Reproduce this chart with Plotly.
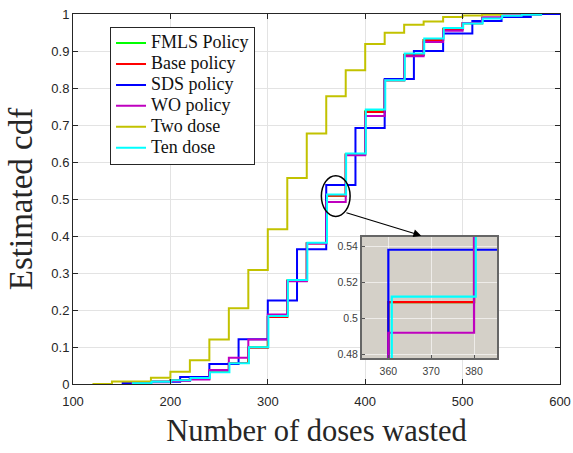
import plotly.graph_objects as go

# ---------------- data ----------------
steps20 = [160, 180, 200, 220, 240, 260, 280, 300, 320, 340, 360, 380, 400,
           420, 440, 460, 480, 500, 520, 540, 560, 580]
ten_steps = [160.6, 180.6, 200.6, 220.6, 240.6, 260.6, 280.6, 300.6, 320.6,
             340.6, 360.8, 380.4, 400.6, 420.6, 440.6, 460.6, 480.6, 500.6,
             520.6, 540.6, 560.6, 580.6]

fmls_cdf = [0.002, 0.006, 0.010, 0.015, 0.033, 0.057, 0.099, 0.182, 0.280,
            0.381, 0.509, 0.621, 0.737, 0.821, 0.890, 0.930, 0.960, 0.975,
            0.989, 0.995, 0.998, 1.0]
base_cdf = [0.002, 0.006, 0.010, 0.015, 0.033, 0.057, 0.098, 0.181, 0.279,
            0.380, 0.509, 0.620, 0.735, 0.821, 0.889, 0.930, 0.959, 0.975,
            0.989, 0.995, 0.998, 1.0]
wo_cdf = [0.002, 0.005, 0.008, 0.012, 0.038, 0.071, 0.120, 0.188, 0.278,
          0.380, 0.492, 0.618, 0.724, 0.821, 0.886, 0.924, 0.955, 0.976,
          0.991, 0.996, 0.998, 1.0]
ten_cdf = [0.002, 0.006, 0.010, 0.016, 0.032, 0.056, 0.099, 0.184, 0.281,
           0.382, 0.512, 0.623, 0.742, 0.821, 0.893, 0.934, 0.962, 0.974,
           0.988, 0.9956, 0.998, 1.0]

sds_steps = [150, 180, 210, 240, 270, 300, 330, 360, 390, 420, 450, 480,
             510, 540, 570, 600]
sds_cdf = [0.003, 0.006, 0.019, 0.054, 0.121, 0.226, 0.364, 0.538, 0.692,
           0.824, 0.900, 0.947, 0.981, 0.992, 1.0, 1.0]

two_steps = [120, 140, 180, 200, 220, 240, 260, 280, 300, 320, 340, 360,
             380, 400, 420, 440, 460, 480, 500, 520, 540]
two_cdf = [0.0, 0.007, 0.017, 0.033, 0.064, 0.120, 0.205, 0.308, 0.418,
           0.557, 0.677, 0.778, 0.848, 0.919, 0.949, 0.971, 0.980, 0.992,
           0.996, 0.998, 1.0]

series = [
    ("FMLS Policy", steps20, fmls_cdf, "#00ff00"),
    ("Base policy", steps20, base_cdf, "#ff0000"),
    ("SDS policy", sds_steps, sds_cdf, "#0000ff"),
    ("WO policy", steps20, wo_cdf, "#bf00bf"),
    ("Two dose", two_steps, two_cdf, "#c2c200"),
    ("Ten dose", ten_steps, ten_cdf, "#00ffff"),
]

x_ticks = [100, 200, 300, 400, 500, 600]
y_ticks = [0, 0.1, 0.2, 0.3, 0.4, 0.5, 0.6, 0.7, 0.8, 0.9, 1]
y_ticktext = ["0", "0.1", "0.2", "0.3", "0.4", "0.5", "0.6", "0.7", "0.8", "0.9", "1"]
inset_x_range = [353.8, 385.4]
inset_y_range = [0.478, 0.5452]
inset_x_ticks = [360, 370, 380]
inset_y_ticks = [0.48, 0.50, 0.52, 0.54]
inset_y_text = ["0.48", "0.5", "0.52", "0.54"]

fig = go.Figure()

for name, xs, ys, col in series:
    fig.add_trace(go.Scatter(
        x=xs, y=ys, mode="lines", line_shape="hv",
        name='<span style="font-size:18px">' + name + '</span>',
        line=dict(color=col, width=2)))

for name, xs, ys, col in series:
    fig.add_trace(go.Scatter(x=xs, y=ys, mode="lines", line_shape="hv",
                             showlegend=False, xaxis="x2", yaxis="y2",
                             line=dict(color=col, width=2.2)))

tickfont = dict(family="Liberation Sans, Arial, sans-serif", size=13, color="#262626")
inset_font = dict(family="Liberation Sans, Arial, sans-serif", size=10.5, color="#404040")
serif = "Liberation Serif, Times New Roman, serif"

fig.update_layout(
    width=573, height=453, autosize=False,
    margin=dict(l=73, r=13, t=14, b=69),
    paper_bgcolor="white", plot_bgcolor="white",
    xaxis=dict(range=[100, 600], tickvals=x_ticks, ticks="inside", ticklen=5,
               tickcolor="#262626", showline=True, linecolor="#262626",
               linewidth=1, mirror="ticks", showgrid=True, gridcolor="#e3e3e3",
               zeroline=False, tickfont=tickfont, ticklabelstandoff=5,
               automargin=False,
               title=dict(text="Number of doses wasted",
                          font=dict(family=serif, size=30.5, color="#262626"),
                          standoff=12)),
    yaxis=dict(range=[0, 1], tickvals=y_ticks, ticktext=y_ticktext,
               ticks="inside", ticklen=5, tickcolor="#262626", showline=True,
               linecolor="#262626", linewidth=1, mirror="ticks", showgrid=True,
               gridcolor="#e3e3e3", zeroline=False, tickfont=tickfont,
               automargin=False,
               title=dict(text="Estimated cdf",
                          font=dict(family=serif, size=33, color="#262626"),
                          standoff=8)),
    xaxis2=dict(domain=[0.593, 0.871], anchor="y2", range=inset_x_range,
                tickvals=inset_x_ticks, ticks="inside", ticklen=3,
                tickcolor="#555555", showline=True, linecolor="#666666",
                linewidth=1.5, mirror=True, showgrid=True,
                gridcolor="rgba(255,255,255,0.6)", zeroline=False,
                tickfont=inset_font, ticklabelstandoff=3, automargin=False),
    yaxis2=dict(domain=[0.0703, 0.398], anchor="x2", range=inset_y_range,
                tickvals=inset_y_ticks, ticktext=inset_y_text, ticks="inside",
                ticklen=3, tickcolor="#555555", showline=True,
                linecolor="#666666", linewidth=1.5, mirror=True, showgrid=True,
                gridcolor="rgba(255,255,255,0.6)", zeroline=False,
                tickfont=inset_font, automargin=False),
    legend=dict(x=0.076, y=0.966, xanchor="left", yanchor="top",
                bgcolor="white", bordercolor="#262626", borderwidth=1,
                font=dict(family=serif, size=13.8, color="#111111"),
                itemwidth=30, tracegroupgap=0),
    showlegend=True,
)

# gray background of the inset (placed in the inset subplot's own layer)
fig.add_shape(type="rect", xref="x2", yref="y2",
              x0=inset_x_range[0] - 5, x1=inset_x_range[1] + 5,
              y0=inset_y_range[0] - 0.01, y1=inset_y_range[1] + 0.01,
              fillcolor="#d4d0c8", line=dict(width=0), layer="below")
fig.add_shape(type="circle", xref="x", yref="y", x0=355, x1=384.5,
              y0=0.453, y1=0.563, line=dict(color="black", width=1.5))
fig.add_annotation(x=457.5, y=0.401, ax=379.2, ay=0.464, xref="x", yref="y",
                   axref="x", ayref="y", text="", showarrow=True,
                   arrowhead=2, arrowsize=1.3, arrowwidth=1.2, standoff=0,
                   font=dict(size=1), arrowcolor="black")

fig.write_html("out.html")
